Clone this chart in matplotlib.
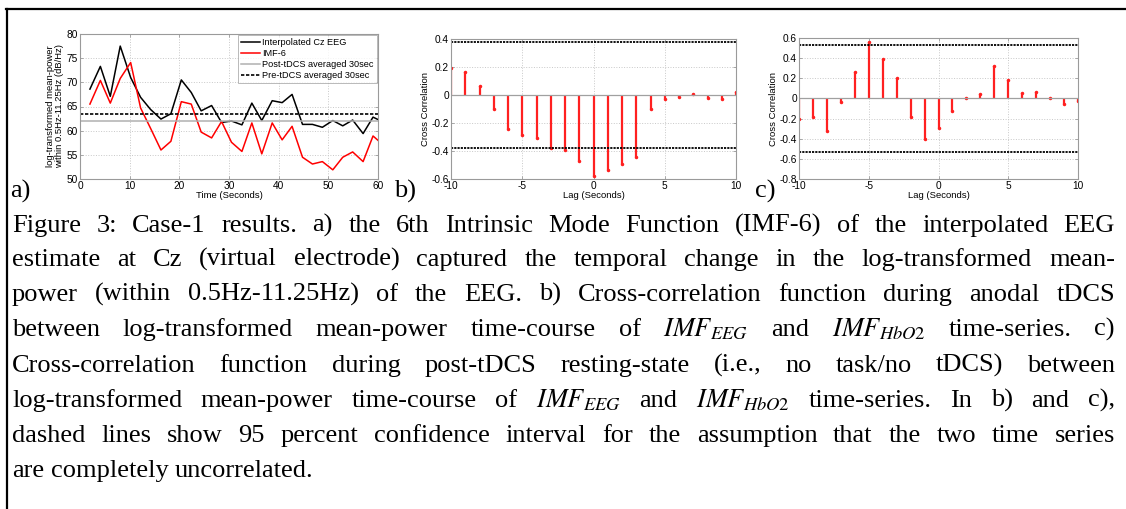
import matplotlib
matplotlib.use('Agg')
import matplotlib.pyplot as plt
from matplotlib.lines import Line2D
from matplotlib.transforms import IdentityTransform

plt.rcParams['font.family'] = ['Liberation Sans', 'DejaVu Sans']
plt.rcParams['mathtext.fontset'] = 'stix'
plt.rcParams['axes.unicode_minus'] = False

# ---- panel a data: log-transformed mean-power over time ----
time_sec = [2.0, 4.1, 6.1, 8.1, 10.2, 12.2, 14.2, 16.3, 18.3, 20.4,
            22.4, 24.4, 26.5, 28.5, 30.5, 32.6, 34.6, 36.6, 38.7, 40.7,
            42.7, 44.8, 46.8, 48.8, 50.9, 52.9, 54.9, 57.0, 59.0, 61.0]
cz_eeg = [68.6, 73.3, 67.1, 77.5, 71.0, 66.9, 64.4, 62.4, 63.5, 70.5,
          67.9, 64.1, 65.2, 61.7, 62.0, 61.2, 65.7, 62.1, 66.2, 65.8,
          67.5, 61.3, 61.3, 60.7, 62.1, 61.0, 62.2, 59.4, 62.8, 61.8]
imf6 = [65.5, 70.4, 65.7, 70.8, 74.1, 64.7, 60.5, 56.0, 57.8, 66.0,
        65.5, 59.7, 58.5, 61.9, 57.6, 55.7, 61.6, 55.2, 61.6, 58.1,
        60.9, 54.5, 53.1, 53.6, 51.9, 54.5, 55.6, 53.6, 58.9, 57.1]
post_tdcs_mean = 62.0
pre_tdcs_mean = 63.4

# ---- panels b and c: cross-correlation ----
lags = list(range(-10, 11))
xcorr_b = [0.19, 0.165, 0.065, -0.10, -0.245, -0.285, -0.305, -0.38, -0.39, -0.47, -0.58,
           -0.535, -0.49, -0.44, -0.10, -0.025, -0.015, 0.005, -0.02, -0.03, 0.02]
conf_b = 0.377
xcorr_c = [-0.205, -0.18, -0.32, -0.035, 0.26, 0.56, 0.39, 0.20, -0.18, -0.40, -0.295,
           -0.12, 0.005, 0.045, 0.325, 0.18, 0.05, 0.065, 0.008, -0.055, -0.028]
conf_c = 0.535

caption_lines = [
    "Figure 3: Case-1 results. a) the 6th Intrinsic Mode Function (IMF-6) of the interpolated EEG",
    "estimate at Cz (virtual electrode) captured the temporal change in the log-transformed mean-",
    "power (within 0.5Hz-11.25Hz) of the EEG. b) Cross-correlation function during anodal tDCS",
    "between log-transformed mean-power time-course of $IMF_{EEG}$ and $IMF_{HbO\\mathrm{2}}$ time-series. c)",
    "Cross-correlation function during post-tDCS resting-state (i.e., no task/no tDCS) between",
    "log-transformed mean-power time-course of $IMF_{EEG}$ and $IMF_{HbO\\mathrm{2}}$ time-series. In b) and c),",
    "dashed lines show 95 percent confidence interval for the assumption that the two time series",
    "are completely uncorrelated.",
]

W, H = 1126, 509
fig = plt.figure(figsize=(W / 100, H / 100), dpi=100)


def px_axes(left, top, right, bottom):
    return fig.add_axes([left / W, 1 - bottom / H, (right - left) / W, (bottom - top) / H])


def matlab_style(ax):
    ax.grid(True, linestyle=':', color='#c8c8c8', linewidth=0.7)
    ax.set_axisbelow(True)
    for s in ax.spines.values():
        s.set_color('#9a9a9a')
        s.set_linewidth(0.8)
    ax.tick_params(direction='in', length=2.5, width=0.6, color='#9a9a9a',
                   labelsize=7.3, pad=1.5, top=True, right=True)


# panel a
ax_a = px_axes(80, 34, 378, 179)
ax_a.plot(time_sec, cz_eeg, color='black', lw=1.1, label='Interpolated Cz EEG')
ax_a.plot(time_sec, imf6, color='red', lw=1.1, label='IMF-6')
ax_a.axhline(post_tdcs_mean, color='#b0b0b0', lw=1.1, label='Post-tDCS averaged 30sec')
ax_a.axhline(pre_tdcs_mean, color='black', lw=1.2, linestyle=(0, (2, 1)), label='Pre-tDCS averaged 30sec')
ax_a.set_xlim(0, 60)
ax_a.set_ylim(50, 80)
ax_a.set_xticks([0, 10, 20, 30, 40, 50, 60])
ax_a.set_yticks([50, 55, 60, 65, 70, 75, 80])
ax_a.set_xlabel('Time (Seconds)', fontsize=6.8, labelpad=0)
ax_a.set_ylabel('log-transformed mean-power\nwithin 0.5Hz-11.25Hz (dB/Hz)', fontsize=6.8,
                labelpad=2, linespacing=1.0)
matlab_style(ax_a)
leg = ax_a.legend(loc='upper right', fontsize=6.6, frameon=True, fancybox=False,
                  borderpad=0.35, labelspacing=0.22, handlelength=2.0, handletextpad=0.3,
                  borderaxespad=0.1)
leg.get_frame().set_edgecolor('#9a9a9a')
leg.get_frame().set_linewidth(0.6)


def xcorr_panel(ax, vals, conf, ylim, yticks):
    ml, sl, bl = ax.stem(lags, vals, linefmt='-', markerfmt='.', basefmt='-')
    plt.setp(sl, color='#ff2020', linewidth=1.6)
    plt.setp(ml, color='#ff2020', markersize=3)
    plt.setp(bl, color='#a0a0a0', linewidth=0.9)
    ax.axhline(conf, color='black', lw=1.3, linestyle=(0, (1.2, 0.6)))
    ax.axhline(-conf, color='black', lw=1.3, linestyle=(0, (1.2, 0.6)))
    ax.set_xlim(-10, 10)
    ax.set_ylim(*ylim)
    ax.set_xticks([-10, -5, 0, 5, 10])
    ax.set_yticks(yticks)
    ax.set_yticklabels(['%g' % v for v in yticks])
    ax.set_xlabel('Lag (Seconds)', fontsize=6.8, labelpad=0)
    ax.set_ylabel('Cross Correlation', fontsize=6.8, labelpad=1)
    matlab_style(ax)


ax_b = px_axes(451, 39, 736, 179)
xcorr_panel(ax_b, xcorr_b, conf_b, (-0.6, 0.4), [-0.6, -0.4, -0.2, 0, 0.2, 0.4])
ax_c = px_axes(799, 38, 1078, 179)
xcorr_panel(ax_c, xcorr_c, conf_c, (-0.8, 0.6), [-0.8, -0.6, -0.4, -0.2, 0, 0.2, 0.4, 0.6])

# panel letters
serif = ['Liberation Serif', 'DejaVu Serif']
cap_size = 19.0
ident = IdentityTransform()
for lx, lab in [(10, 'a)'), (394, 'b)'), (755, 'c)')]:
    fig.text(lx, H - 198, lab, transform=ident, fontsize=cap_size, family=serif, va='baseline')

# frame lines (left and top)
fig.add_artist(Line2D([6.5, 6.5], [0, H - 9], transform=ident, color='black', lw=1.6))
fig.add_artist(Line2D([6, W], [H - 9, H - 9], transform=ident, color='black', lw=1.6))

# justified caption
x_left, x_right = 12, 1115
baselines = [232, 266, 301, 336, 372, 407, 442, 477]
renderer = fig.canvas.get_renderer()
for i, (line, yb) in enumerate(zip(caption_lines, baselines)):
    words = line.split(' ')
    texts = [fig.text(0, H - yb, w, transform=ident, fontsize=cap_size, family=serif, va='baseline')
             for w in words]
    widths = [t.get_window_extent(renderer).width for t in texts]
    if i < len(caption_lines) - 1:
        gap = (x_right - x_left - sum(widths)) / (len(words) - 1)
    else:
        gap = cap_size * 0.25 * 100 / 72
    x = x_left
    for t, w in zip(texts, widths):
        t.set_x(x)
        x += w + gap

fig.savefig('out.png', dpi=100)
